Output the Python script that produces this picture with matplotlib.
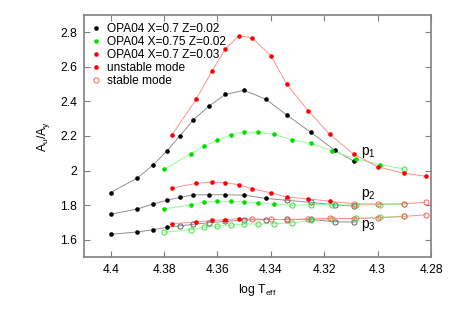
import matplotlib
matplotlib.use("Agg")
import matplotlib.pyplot as plt
from matplotlib.lines import Line2D

plt.rcParams['font.family'] = ['Liberation Sans', 'DejaVu Sans']
plt.rcParams['mathtext.fontset'] = 'custom'
plt.rcParams['mathtext.rm'] = 'Liberation Sans'
plt.rcParams['mathtext.it'] = 'Liberation Sans'

# log Teff grids
x_black = [4.400, 4.390, 4.384, 4.379, 4.374, 4.369, 4.363, 4.357, 4.350, 4.342, 4.334, 4.325, 4.316, 4.309]
x_red = [4.377, 4.368, 4.362, 4.357, 4.352, 4.347, 4.340, 4.334, 4.326, 4.318, 4.309, 4.300, 4.290, 4.282]
x_green = [4.380, 4.370, 4.365, 4.360, 4.355, 4.350, 4.345, 4.339, 4.332, 4.325, 4.317, 4.308, 4.299, 4.290]

# p1
black_p1 = [1.873, 1.957, 2.034, 2.113, 2.202, 2.294, 2.375, 2.441, 2.464, 2.414, 2.321, 2.221, 2.117, 2.055]
red_p1 = [2.207, 2.412, 2.576, 2.703, 2.780, 2.768, 2.664, 2.499, 2.346, 2.210, 2.096, 2.022, 1.984, 1.967]
green_p1 = [2.007, 2.096, 2.142, 2.177, 2.207, 2.223, 2.221, 2.210, 2.178, 2.158, 2.113, 2.067, 2.034, 2.009]
# p2
black_p2 = [1.747, 1.778, 1.807, 1.828, 1.845, 1.860, 1.860, 1.860, 1.858, 1.839, 1.828, 1.816, 1.801, 1.795]
red_p2 = [1.899, 1.926, 1.934, 1.930, 1.918, 1.895, 1.871, 1.847, 1.836, 1.823, 1.808, 1.806, 1.808, 1.817]
green_p2 = [1.778, 1.802, 1.818, 1.822, 1.822, 1.820, 1.814, 1.806, 1.799, 1.803, 1.803, 1.800, 1.803, 1.806]
# p3
black_p3 = [1.631, 1.645, 1.658, 1.672, 1.680, 1.689, 1.699, 1.706, 1.714, 1.716, 1.718, 1.717, 1.704, 1.702]
red_p3 = [1.693, 1.702, 1.712, 1.716, 1.722, 1.720, 1.718, 1.716, 1.720, 1.724, 1.722, 1.726, 1.735, 1.744]
green_p3 = [1.643, 1.658, 1.672, 1.678, 1.683, 1.690, 1.691, 1.693, 1.697, 1.712, 1.722, 1.724, 1.730, 1.737]

# number of unstable (filled) points from the hot end
n_unstable = {
    ('black', 1): 14, ('red', 1): 14, ('green', 1): 13,
    ('black', 2): 10, ('red', 2): 10, ('green', 2): 8,
    ('black', 3): 4, ('red', 3): 5, ('green', 3): 0,
}

legend_labels = ["OPA04 X=0.7 Z=0.02", "OPA04 X=0.75 Z=0.02", "OPA04 X=0.7 Z=0.03",
                 "unstable mode", "stable mode"]
mode_labels = ["p$_1$", "p$_2$", "p$_3$"]

styles = {
    'black': dict(fill='#000000', open='#606060', line='#909090'),
    'green': dict(fill='#00e000', open='#40e040', line='#90ff90'),
    'red': dict(fill='#ff0000', open='#ff6060', line='#ff9090'),
}

series = {
    'black': (x_black, [black_p1, black_p2, black_p3]),
    'green': (x_green, [green_p1, green_p2, green_p3]),
    'red': (x_red, [red_p1, red_p2, red_p3]),
}

fig = plt.figure(figsize=(4.52, 3.16), dpi=100)
ax = fig.add_axes([84/452, 59/316, 347/452, 242/316])

ms = 3.3
for name in ['black', 'green', 'red']:
    xs, ys_list = series[name]
    st = styles[name]
    for k, ys in enumerate(ys_list, start=1):
        ax.plot(xs, ys, '-', color=st['line'], lw=0.7, zorder=2)
        n = n_unstable[(name, k)]
        if n > 0:
            ax.plot(xs[:n], ys[:n], 'o', color=st['fill'], ms=ms, mew=0, zorder=3)
        if n < len(xs):
            ax.plot(xs[n:], ys[n:], 'o', mfc='none', mec=st['open'], ms=ms + 0.4, mew=0.7, zorder=3)

ax.set_xlim(4.41, 4.28)
ax.set_ylim(1.5, 2.9)
ax.set_xticks([4.40, 4.38, 4.36, 4.34, 4.32, 4.30, 4.28])
ax.set_xticklabels(['4.4', '4.38', '4.36', '4.34', '4.32', '4.3', '4.28'])
ax.set_yticks([1.6, 1.8, 2.0, 2.2, 2.4, 2.6, 2.8])
ax.set_yticklabels(['1.6', '1.8', '2', '2.2', '2.4', '2.6', '2.8'])
ax.tick_params(direction='in', top=True, right=True, length=4, width=0.8,
               color='#808080', labelsize=8.7, pad=5)
for s in ax.spines.values():
    s.set_color('#808080')
    s.set_linewidth(1.2)

ax.set_xlabel(r'log T$_{\rm eff}$', fontsize=8.7, labelpad=4)
ax.set_ylabel(r'A$_{\rm u}$/A$_{\rm y}$', fontsize=8.7, labelpad=6)

# mode labels
ax.text(4.3036, 2.107, mode_labels[0], fontsize=10, ha='center', va='center')
ax.text(4.3033, 1.859, mode_labels[1], fontsize=10, ha='center', va='center')
ax.text(4.3033, 1.685, mode_labels[2], fontsize=10, ha='center', va='center')

handles = [
    Line2D([], [], ls='none', marker='o', color='#000000', ms=ms, mew=0),
    Line2D([], [], ls='none', marker='o', color='#00e000', ms=ms, mew=0),
    Line2D([], [], ls='none', marker='o', color='#ff0000', ms=ms, mew=0),
    Line2D([], [], ls='none', marker='o', color='#ff0000', ms=ms, mew=0),
    Line2D([], [], ls='none', marker='o', mfc='none', mec='#ff6060', ms=ms + 0.4, mew=0.7),
]
ax.legend(handles, legend_labels, loc='upper left', frameon=False, fontsize=8.6,
          handlelength=0.6, handletextpad=0.6, labelspacing=0.08,
          borderaxespad=0.3, bbox_to_anchor=(0.0, 1.0))

fig.savefig('out.png', dpi=100)
